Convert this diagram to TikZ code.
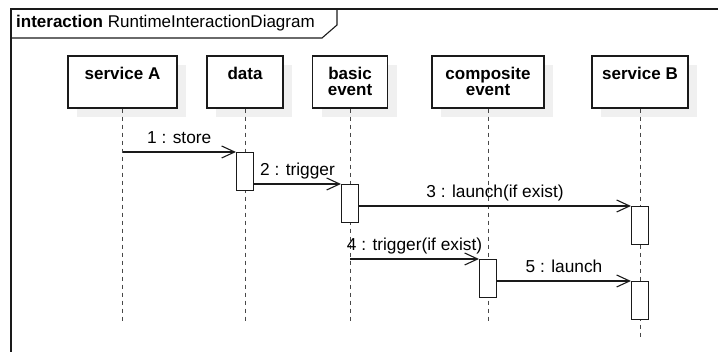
\documentclass[tikz,border=0pt]{standalone}
\usepackage{fontspec}
\setmainfont{Liberation Sans}
\usetikzlibrary{arrows.meta}
\definecolor{ink}{HTML}{1A1A1A}
\definecolor{shade}{HTML}{F0F0F0}
\tikzset{
  lbox/.style={draw=ink, line width=1.1pt, fill=white, minimum height=52pt, inner sep=0pt},
  shadowbox/.style={fill=shade, draw=none, minimum height=52pt, inner sep=0pt},
  ltext/.style={font=\fontsize{17}{17}\selectfont\bfseries, align=center, anchor=base, inner sep=0pt},
  lifeline/.style={draw=ink!80, line width=1pt, dash pattern=on 4pt off 4pt},
  act/.style={draw=ink, line width=1.1pt, fill=white, minimum width=17pt, minimum height=38pt, inner sep=0pt},
  msg/.style={draw=ink, line width=1.1pt, -{Straight Barb[length=13pt,width=12pt,line width=1.1pt]}},
  mlabel/.style={font=\fontsize{17.3}{17}\selectfont, anchor=base, inner sep=0pt, yshift=8pt},
}
\begin{document}
\begin{tikzpicture}[x=1pt,y=-1pt]
\useasboundingbox (0,0) rectangle (718,352);
% frame
\draw[draw=ink, line width=1.1pt] (11,352) -- (11,9) -- (718,9);
\draw[draw=ink, line width=1.1pt] (11,38) -- (322,38) -- (337,25) -- (337,9);
\node[anchor=base west, inner sep=0pt, font=\fontsize{17}{17}\selectfont] (title) at (16,28) {\textbf{interaction} RuntimeInteractionDiagram};
% shadows
\node[shadowbox, minimum width=109pt] (saS) at (131.5,91) {};
\node[shadowbox, minimum width=76pt] (daS) at (254,91) {};
\node[shadowbox, minimum width=75pt] (beS) at (359,91) {};
\node[shadowbox, minimum width=112pt] (ceS) at (497,91) {};
\node[shadowbox, minimum width=96pt] (sbS) at (649,91) {};
% lifeline heads
\node[lbox, minimum width=109pt] (sa) at (122.5,82) {};
\node[lbox, minimum width=76pt] (da) at (245,82) {};
\node[lbox, minimum width=75pt] (be) at (350,82) {};
\node[lbox, minimum width=112pt] (ce) at (488,82) {};
\node[lbox, minimum width=96pt] (sb) at (640,82) {};
\node[ltext] (saT) at (122.5,80) {service A};
\node[ltext] (daT) at (245,80) {data};
\node[ltext] (beT) at (350,96) {basic\\[-1pt]event};
\node[ltext] (ceT) at (488,96) {composite\\[-1pt]event};
\node[ltext] (sbT) at (640,80) {service B};
% lifeline ends
\coordinate (saE) at (122.5,324);
\coordinate (daE) at (245,324);
\coordinate (beE) at (350,324);
\coordinate (ceE) at (488,324);
\coordinate (sbE) at (640,337);
\draw[lifeline] (sa.south) -- (saE);
\draw[lifeline] (da.south) -- (daE);
\draw[lifeline] (be.south) -- (beE);
\draw[lifeline] (ce.south) -- (ceE);
\draw[lifeline] (sb.south) -- (sbE);
% activations
\node[act, anchor=north] (a1) at (245,152) {};
\node[act, anchor=north] (a2) at (350,184) {};
\node[act, anchor=north] (a3) at (640,206) {};
\node[act, anchor=north] (a4) at (488,259) {};
\node[act, anchor=north] (a5) at (640,281) {};
% message sources on lifelines
\coordinate (m1s) at (122.5,152);
\coordinate (m4s) at (350,259);
% messages
\draw[msg] (m1s) -- (a1.north west) node[mlabel, midway] (l1) {1 : store};
\draw[msg] (a1.east |- a2.north) -- (a2.north west) node[mlabel, midway] (l2) {2 : trigger};
\draw[msg] (a2.east |- a3.north) -- (a3.north west) node[mlabel, midway] (l3) {3 : launch(if exist)};
\draw[msg] (m4s) -- (a4.north west) node[mlabel, midway] (l4) {4 : trigger(if exist)};
\draw[msg] (a4.east |- a5.north) -- (a5.north west) node[mlabel, midway] (l5) {5 : launch};
\end{tikzpicture}
\end{document}
